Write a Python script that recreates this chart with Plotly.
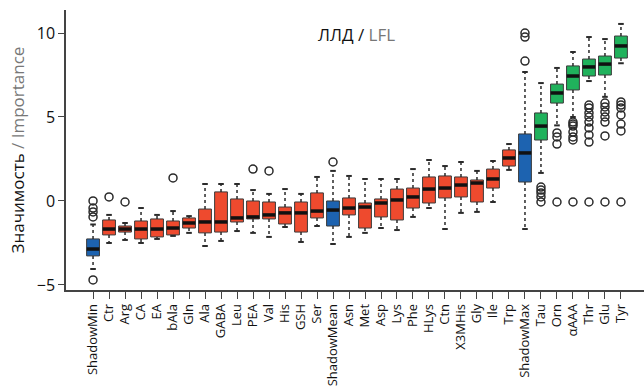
import plotly.graph_objects as go

# Feature importance distributions (Boruta-style), one box per feature
features = ["ShadowMin", "Ctr", "Arg", "CA", "EA", "bAla", "Gln", "Ala", "GABA", "Leu",
            "PEA", "Val", "His", "GSH", "Ser", "ShadowMean", "Asn", "Met", "Asp", "Lys",
            "Phe", "HLys", "Ctn", "X3MHis", "Gly", "Ile", "Trp", "ShadowMax", "Tau", "Orn",
            "αAAA", "Thr", "Glu", "Tyr"]

lower_whisker = [-4.05, -2.50, -2.32, -2.50, -2.26, -2.08, -1.90, -2.68, -2.38, -1.79,
                 -1.90, -2.14, -1.55, -2.44, -1.49, -2.56, -2.14, -1.90, -1.61, -1.73,
                 -0.95, -0.42, -1.67, -0.71, -0.65, -0.06, 1.85, -1.67, 1.67, 4.50,
                 5.00, 7.14, 6.20, 8.20]
q1 = [-3.27, -2.02, -1.85, -2.26, -2.14, -2.02, -1.61, -1.90, -1.85, -1.25,
      -1.07, -1.07, -1.37, -1.85, -1.01, -1.49, -0.83, -1.61, -0.95, -1.13,
      -0.42, -0.12, 0.18, 0.24, -0.06, 0.77, 2.08, 1.13, 3.63, 5.83,
      6.61, 7.44, 7.50, 8.51]
median = [-2.86, -1.67, -1.67, -1.67, -1.67, -1.61, -1.31, -1.25, -1.25, -1.01,
          -0.95, -0.83, -0.71, -0.71, -0.60, -0.54, -0.42, -0.36, -0.12, 0.06,
          0.24, 0.71, 0.77, 0.95, 1.07, 1.31, 2.56, 2.86, 4.46, 6.43,
          7.44, 7.98, 8.15, 9.23]
q3 = [-2.26, -1.13, -1.49, -1.19, -1.07, -1.19, -1.01, -0.48, 0.54, 0.12,
      0.00, -0.06, -0.36, -0.06, 0.48, 0.00, 0.18, -0.12, 0.12, 0.71,
      0.77, 1.43, 1.49, 1.43, 1.25, 1.90, 3.04, 3.99, 5.24, 6.96,
      8.04, 8.45, 8.63, 9.82]
upper_whisker = [-1.40, -0.83, -1.31, -0.42, -0.83, -0.60, -0.90, 1.01, 1.01, 1.01,
                 0.65, 0.42, 0.71, 0.42, 1.43, 1.79, 1.49, 1.31, 1.31, 1.31,
                 1.90, 2.44, 2.08, 2.32, 1.79, 2.38, 3.39, 7.68, 7.02, 7.92,
                 8.87, 9.76, 9.64, 10.54]
outliers = [[0.0, -0.42, -0.65, -0.95, -4.70], [0.24], [-0.06], [], [], [1.37], [], [], [], [],
            [1.90], [1.79], [], [], [], [2.32], [], [], [], [],
            [], [], [], [], [], [], [], [10.0, 9.76, 8.33],
            [0.83, 0.65, 0.48, 0.24, -0.06],
            [4.05, 3.81, 3.39, -0.06],
            [4.70, 4.58, 4.46, 4.10, 3.81, 3.63, -0.06],
            [5.71, 5.54, 5.24, 5.00, 4.70, 4.35, 3.93, 3.51, -0.06],
            [5.83, 5.60, 5.30, 5.00, 4.70, 3.87, -0.06],
            [5.90, 5.71, 5.54, 5.12, 4.58, 4.17, -0.06]]
shadow = ["ShadowMin", "ShadowMean", "ShadowMax"]
confirmed = ["Tau", "Orn", "αAAA", "Thr", "Glu", "Tyr"]

RED, BLUE, GREEN = "#EE4A2E", "#1D63B0", "#20B25C"
colors = [BLUE if f in shadow else GREEN if f in confirmed else RED for f in features]
INK = "#2a2a2a"
FONT = "Open Sans"

fig = go.Figure()

# dashed whiskers, one segment per box side
for f, lo, a, b, hi in zip(features, lower_whisker, q1, q3, upper_whisker):
    for y0, y1 in ((b, hi), (a, lo)):
        fig.add_trace(go.Scatter(x=[f, f], y=[y0, y1], mode="lines", hoverinfo="skip",
                                 line=dict(color=INK, width=1.5, dash="3px,3px")))

# whisker caps
fig.add_trace(go.Scatter(x=features + features, y=upper_whisker + lower_whisker,
                         mode="markers", hoverinfo="skip",
                         marker=dict(symbol="line-ew", size=4,
                                     line=dict(color=INK, width=2))))

# boxes (interquartile range)
fig.add_trace(go.Bar(x=features, base=q1, y=[b - a for a, b in zip(q1, q3)],
                     width=0.8, marker=dict(color=colors, line=dict(color="#3a3a3a", width=1))))

# medians
fig.add_trace(go.Scatter(x=features, y=median, mode="markers", hoverinfo="skip",
                         marker=dict(symbol="line-ew", size=9,
                                     line=dict(color="#111111", width=3.5))))

# outliers
ox, oy = [], []
for f, vals in zip(features, outliers):
    ox += [f] * len(vals)
    oy += vals
fig.add_trace(go.Scatter(x=ox, y=oy, mode="markers", hoverinfo="skip",
                         marker=dict(symbol="circle-open", size=8, color=INK,
                                     line=dict(width=1.5))))

fig.add_annotation(xref="paper", yref="paper", x=0.502, y=0.961, showarrow=False,
                   text="ЛЛД / <span style='color:#777777'>LFL</span>",
                   font=dict(family=FONT, size=17, color="#111111"))

fig.update_layout(
    width=644, height=388, showlegend=False,
    paper_bgcolor="white", plot_bgcolor="white",
    margin=dict(l=66, r=0, t=10, b=98),
    font=dict(family=FONT, color="#111111"),
    xaxis=dict(type="category", categoryorder="array", categoryarray=features,
               tickmode="array", tickvals=features, ticktext=features,
               range=[-1.69, 34.44], tickangle=-90, ticks="outside", ticklen=7,
               tickcolor="#444444", showline=True, linecolor="#444444", linewidth=1.5,
               showgrid=False, zeroline=False, tickfont=dict(size=13, family=FONT)),
    yaxis=dict(range=[-5.30, 11.37], tickvals=[-5, 0, 5, 10], ticks="outside",
               ticklen=6, tickcolor="#444444", showline=True, linecolor="#444444",
               linewidth=1.5, showgrid=False, zeroline=False,
               tickfont=dict(size=16, family=FONT),
               title=dict(text="Значимость <span style='color:#777777'>/ Importance</span>",
                          font=dict(size=17, family=FONT), standoff=8)),
)

fig.write_html("out.html")
